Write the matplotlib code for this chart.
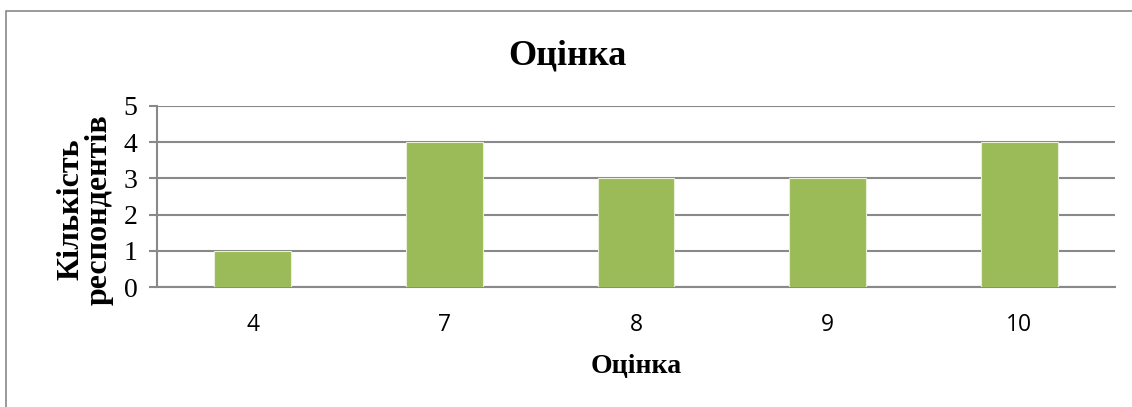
import matplotlib.pyplot as plt
from matplotlib.patches import Rectangle

# survey scores and how many respondents gave each
scores = ['4', '7', '8', '9', '10']
counts = [1, 4, 3, 3, 4]
yticks = [0, 1, 2, 3, 4, 5]

title = 'Оцінка'
xlabel = 'Оцінка'
ylabel = 'Кількість\nреспондентів'

green = '#9BBB59'
grey = '#898989'
serif = ['Liberation Serif', 'DejaVu Serif']
sans = ['Open Sans', 'DejaVu Sans']

fig = plt.figure(figsize=(11.32, 4.07), dpi=100)
ax = fig.add_axes([0.1387, 0.2948, 0.985 - 0.1387, 0.7396 - 0.2948])

# outer chart frame, only its left and top edges fall inside the image
fig.patches.append(Rectangle((5.5 / 1132, -0.5), 1.5, 1.5 - 10.5 / 407,
                             transform=fig.transFigure, fill=False,
                             edgecolor=grey, linewidth=1.2))

x = range(len(scores))
ax.bar(x, counts, width=0.4, color=green, edgecolor='#e8f0d8', linewidth=0.8, zorder=3)

ax.set_xlim(-0.5, len(scores) - 0.5)
ax.set_ylim(0, 5)
ax.set_yticks(yticks)
ax.set_yticklabels([str(v) for v in yticks], family=serif, fontsize=20)
ax.set_xticks(list(x))
ax.set_xticklabels(scores, family=sans, fontsize=16.5)

ax.tick_params(axis='x', length=0, pad=19)
ax.tick_params(axis='y', length=6, width=1.5, color=grey, pad=8)

ax.grid(axis='y', color=grey, linewidth=1.5, zorder=0)
ax.set_axisbelow(True)
for side in ['top', 'right']:
    ax.spines[side].set_visible(False)
for side in ['left', 'bottom']:
    ax.spines[side].set_color(grey)
    ax.spines[side].set_linewidth(1.5)

ax.set_title(title, family=serif, fontsize=26, fontweight='bold', pad=30, x=0.428)
ax.set_xlabel(xlabel, family=serif, fontsize=20, fontweight='bold', labelpad=12, x=0.5)
ax.set_ylabel(ylabel, family=serif, fontsize=23, fontweight='bold',
              linespacing=0.95, ha='center', va='center')
ax.yaxis.set_label_coords(-0.075, 0.43)

fig.savefig('out.png', dpi=100)
